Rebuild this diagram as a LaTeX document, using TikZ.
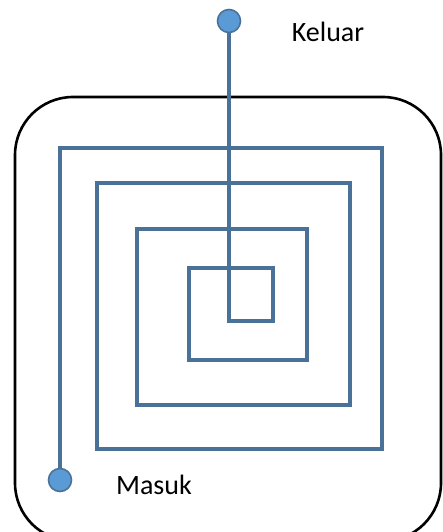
\documentclass[tikz,border=0pt]{standalone}
\usepackage{fontspec}
\setmainfont{Carlito}
\begin{document}
\begin{tikzpicture}[x=1pt,y=-1pt,
  frame/.style={draw=black,line width=2.6pt,rounded corners=58pt},
  spiral/.style={draw=spiralblue,line width=3.4pt,line join=miter},
  dot/.style={circle,fill=dotblue,draw=spiralblue,line width=1.6pt,minimum size=23pt,inner sep=0pt},
  lbl/.style={font=\fontsize{28}{33}\selectfont,text=black,inner sep=0pt}]
\definecolor{spiralblue}{HTML}{4A7299}
\definecolor{dotblue}{HTML}{5B9BD5}
\useasboundingbox (0,0) rectangle (442,532);
\draw[frame] (15,97) rectangle (441,541);
\coordinate (c1) at (60,148);
\coordinate (c2) at (382,148);
\coordinate (c3) at (382,449);
\coordinate (c4) at (97,449);
\coordinate (c5) at (97,183);
\coordinate (c6) at (350,183);
\coordinate (c7) at (350,405);
\coordinate (c8) at (137,405);
\coordinate (c9) at (137,229);
\coordinate (c10) at (307,229);
\coordinate (c11) at (307,360);
\coordinate (c12) at (189,360);
\coordinate (c13) at (189,268);
\coordinate (c14) at (273,268);
\coordinate (c15) at (273,321);
\coordinate (c16) at (229,321);
\coordinate (inpt) at (60,480);
\coordinate (outpt) at (229,21);
\draw[spiral] (inpt) -- (c1) -- (c2) -- (c3) -- (c4) -- (c5) -- (c6) -- (c7) -- (c8) -- (c9) -- (c10) -- (c11) -- (c12) -- (c13) -- (c14) -- (c15) -- (c16) -- (outpt);
\node[dot] (masukdot) at (inpt) {};
\node[dot] (keluardot) at (outpt) {};
\node[lbl] (keluar) at (328,32) {Keluar};
\node[lbl] (masuk) at (154,485) {Masuk};
\end{tikzpicture}
\end{document}
